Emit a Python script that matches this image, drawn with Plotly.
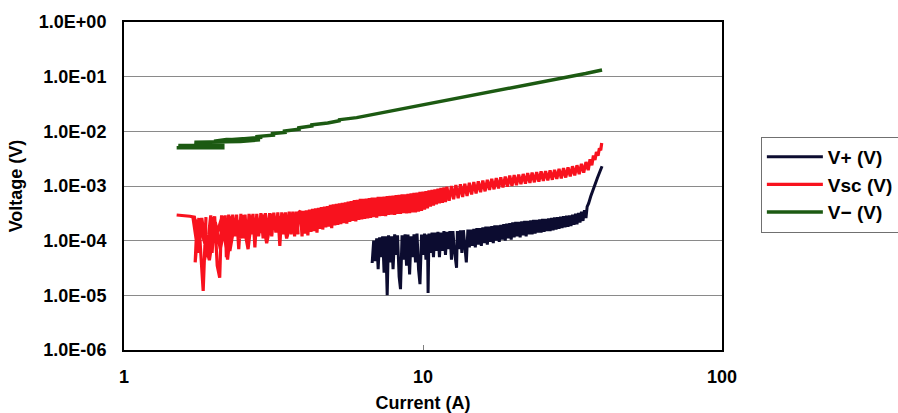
import plotly.graph_objects as go

# ---- data ----
vplus_current = [6.76, 6.84, 6.92, 7.00, 7.08, 7.16, 7.24, 7.33, 7.41, 7.50, 7.59, 7.67, 7.76, 7.85,
                 7.94, 8.04, 8.13, 8.22, 8.32, 8.41, 8.51, 8.61, 8.71, 8.81, 8.91, 9.02, 9.12, 9.23,
                 9.33, 9.44, 9.55, 9.66, 9.77, 9.89, 10.0, 10.12, 10.23, 10.35, 10.40, 10.47, 10.59,
                 10.72, 10.84, 10.96, 11.09, 11.22, 11.35, 11.48, 11.61, 11.75, 11.89, 12.02, 12.16,
                 12.30, 12.45, 12.59, 12.74, 12.95, 13.03, 13.18, 13.34, 13.49, 13.65, 13.80, 13.96,
                 14.13, 14.29, 14.45, 14.62, 14.79, 14.96, 15.14, 15.31, 15.49, 15.67, 15.85, 16.03,
                 16.22, 16.41, 16.60, 16.79, 16.98, 17.18, 17.38, 17.58, 17.78, 17.99, 18.20, 18.41,
                 18.62, 18.84, 19.05, 19.28, 19.50, 19.72, 19.95, 20.18, 20.42, 20.65, 20.89, 21.13,
                 21.38, 21.63, 21.88, 22.13, 22.39, 22.65, 22.91, 23.17, 23.44, 23.71, 23.99, 24.27,
                 24.55, 24.83, 25.12, 25.41, 25.70, 26.00, 26.30, 26.61, 26.92, 27.23, 27.54, 27.86,
                 28.18, 28.51, 28.84, 29.17, 29.51, 29.85, 30.20, 30.55, 30.90, 31.26, 31.62, 31.99,
                 32.36, 32.73, 33.11, 33.50, 33.88, 34.28, 34.67, 35.08, 35.4, 35.8, 36.4, 37.0,
                 37.6, 38.3, 39.0, 39.7]
vplus_voltage = [3.9e-5, 1.0e-4, 4.2e-5, 1.1e-4, 3.0e-5, 1.15e-4, 5.0e-5, 1.2e-4, 2.6e-5, 1.2e-4,
                 1.0e-5, 1.25e-4, 4.0e-5, 1.2e-4, 3.0e-5, 1.3e-4, 5.5e-5, 1.25e-4, 2.2e-5, 1.3e-5,
                 1.25e-4, 4.5e-5, 1.3e-4, 3.5e-5, 1.3e-4, 2.4e-5, 1.2e-4, 5.0e-5, 1.3e-4, 4.0e-5,
                 1.35e-4, 3.0e-5, 1.6e-5, 1.3e-4, 5.5e-5, 1.35e-4, 4.5e-5, 1.3e-4, 1.1e-5, 1.35e-4,
                 6.0e-5, 1.4e-4, 5.0e-5, 1.4e-4, 6.5e-5, 1.45e-4, 5.0e-5, 1.4e-4, 6.5e-5, 1.5e-4,
                 5.5e-5, 1.45e-4, 7.0e-5, 1.5e-4, 4.5e-5, 1.5e-4, 6.5e-5, 3.2e-5, 1.5e-4, 7.0e-5,
                 1.55e-4, 6.0e-5, 1.55e-4, 7.5e-5, 4.0e-5, 1.6e-4, 7.5e-5, 1.6e-4, 8.0e-5, 1.65e-4,
                 7.5e-5, 1.7e-4, 8.5e-5, 1.7e-4, 8.0e-5, 1.75e-4, 9.0e-5, 1.8e-4, 8.5e-5, 1.8e-4,
                 9.5e-5, 1.85e-4, 9.0e-5, 1.9e-4, 1.0e-4, 1.9e-4, 9.5e-5, 1.95e-4, 1.05e-4, 2.0e-4,
                 1.0e-4, 2.05e-4, 1.1e-4, 2.1e-4, 1.05e-4, 2.15e-4, 1.15e-4, 2.2e-4, 1.2e-4, 2.2e-4,
                 1.15e-4, 2.25e-4, 1.25e-4, 2.3e-4, 1.2e-4, 2.3e-4, 1.3e-4, 2.35e-4, 1.3e-4, 2.4e-4,
                 1.35e-4, 2.4e-4, 1.4e-4, 2.45e-4, 1.4e-4, 2.5e-4, 1.45e-4, 2.5e-4, 1.5e-4, 2.55e-4,
                 1.5e-4, 2.6e-4, 1.55e-4, 2.65e-4, 1.6e-4, 2.7e-4, 1.65e-4, 2.75e-4, 1.7e-4, 2.8e-4,
                 1.75e-4, 2.85e-4, 1.8e-4, 2.9e-4, 1.85e-4, 3.0e-4, 1.95e-4, 3.1e-4, 2.0e-4, 3.2e-4,
                 2.15e-4, 3.4e-4, 2.3e-4, 3.6e-4, 2.6e-4, 4.2e-4, 4.8e-4, 6.5e-4, 8.5e-4, 1.1e-3,
                 1.4e-3, 1.8e-3, 2.3e-3]

vsc_current = [
    1.50, 1.58, 1.66, 1.72, 1.75, 1.73, 1.78, 1.80, 1.84, 1.88, 1.86, 1.92, 1.95, 1.97, 2.01,
    2.05, 2.09, 2.12, 2.15, 2.18, 2.20, 2.24, 2.27, 2.31, 2.35, 2.38, 2.42, 2.46, 2.50, 2.54,
    2.58, 2.62, 2.66, 2.70, 2.74, 2.78, 2.82, 2.87, 2.92, 2.97, 3.02, 3.07, 3.12, 3.17, 3.22,
    3.27, 3.32, 3.37, 3.42, 3.47, 3.52, 3.57, 3.62, 3.67, 3.72, 3.77, 3.82,
    3.80, 3.64, 3.50, 3.39, 3.25, 3.14, 3.00, 2.89, 2.80, 2.68, 2.60, 2.48, 2.40, 2.30, 2.22,
    2.13, 2.05, 1.97, 1.90, 1.82, 1.77, 1.70,
    1.80, 1.93, 2.02, 2.10, 2.19, 2.26, 2.34, 2.44, 2.52, 2.60, 2.72, 2.84, 2.95, 3.05, 3.20,
    3.30, 3.45, 3.55, 3.70, 3.80, 3.85,
    3.89, 3.94, 3.98, 4.03, 4.07, 4.12, 4.17, 4.22, 4.27, 4.32, 4.37, 4.42, 4.47, 4.52, 4.57,
    4.62, 4.68, 4.73, 4.79, 4.84, 4.90, 4.95, 5.01, 5.07, 5.13, 5.19, 5.25, 5.31, 5.37, 5.43,
    5.50, 5.56, 5.62, 5.69, 5.75, 5.82, 5.89, 5.96, 6.03, 6.10, 6.17, 6.24, 6.31, 6.38, 6.46,
    6.53, 6.61, 6.68, 6.76, 6.84, 6.92, 7.00, 7.08, 7.16, 7.24, 7.33, 7.41, 7.50, 7.59, 7.67,
    7.76, 7.85, 7.94, 8.04, 8.13, 8.22, 8.32, 8.41, 8.51, 8.61, 8.71, 8.81, 8.91, 9.02, 9.12,
    9.23, 9.33, 9.44, 9.55, 9.66, 9.77, 9.89, 10.0, 10.12, 10.23, 10.35, 10.47, 10.59, 10.72,
    10.84, 10.96, 11.09, 11.22, 11.35, 11.48, 11.61, 11.75, 11.89, 12.02,
    12.23, 12.45, 12.66, 12.88, 13.11, 13.34, 13.57, 13.80, 14.04, 14.29, 14.54, 14.79, 15.05,
    15.31, 15.58, 15.85, 16.13, 16.41, 16.69, 16.98, 17.28, 17.58, 17.89, 18.20, 18.51, 18.84,
    19.16, 19.50, 19.84, 20.18, 20.54, 20.89, 21.26, 21.63, 22.01, 22.39, 22.78, 23.17, 23.58,
    23.99, 24.41, 24.83, 25.26, 25.70, 26.15, 26.61, 27.07, 27.54, 28.02, 28.51, 29.01, 29.51,
    30.02, 30.55, 31.08, 31.62, 32.17, 32.73, 33.30, 33.88, 34.47, 35.08, 35.69, 36.2, 36.7,
    37.15, 37.6, 38.02, 38.5, 38.9, 39.3, 39.6]
vsc_voltage = [
    2.95e-4, 2.9e-4, 2.8e-4, 2.7e-4, 1.6e-4, 4.0e-5, 2.6e-4, 8.0e-5, 1.2e-5, 2.7e-4, 4.5e-5,
    1.3e-4, 2.9e-4, 6.0e-5, 2.8e-4, 3.5e-5, 2.1e-5, 2.9e-4, 1.0e-4, 2.9e-4, 5.0e-5, 3.0e-4,
    9.0e-5, 3.0e-4, 1.2e-4, 3.0e-4, 7.0e-5, 3.1e-4, 1.1e-4, 3.0e-4, 9.0e-5, 3.1e-4, 1.3e-4,
    3.1e-4, 7.5e-5, 3.1e-4, 1.2e-4, 3.2e-4, 1.1e-4, 3.2e-4, 1.3e-4, 3.2e-4, 1.2e-4, 3.25e-4,
    1.4e-4, 3.3e-4, 8.0e-5, 3.3e-4, 1.3e-4, 3.3e-4, 1.2e-4, 3.4e-4, 1.3e-4, 3.4e-4, 1.2e-4,
    3.4e-4, 1.3e-4,
    2.2e-4, 3.2e-4, 1.1e-4, 3.1e-4, 1.9e-4, 3.1e-4, 9.0e-5, 3.0e-4, 1.8e-4, 2.9e-4, 7.0e-5,
    2.9e-4, 1.7e-4, 2.8e-4, 4.5e-5, 2.8e-4, 1.4e-4, 2.7e-4, 5.0e-5, 2.6e-4, 6.0e-5, 2.7e-4,
    1.8e-4, 4.4e-5, 2.2e-4, 7.0e-5, 2.3e-4, 6.5e-5, 2.0e-4, 1.1e-4, 2.5e-4, 1.2e-4, 2.4e-4,
    1.4e-4, 2.6e-4, 1.5e-4, 2.7e-4, 1.6e-4, 2.7e-4, 1.6e-4, 2.9e-4, 1.5e-4, 3.3e-4,
    3.5e-4, 1.2e-4, 3.5e-4, 1.35e-4, 3.6e-4, 1.25e-4, 3.7e-4, 1.45e-4, 3.8e-4, 1.5e-4, 3.9e-4,
    1.4e-4, 4.0e-4, 1.65e-4, 4.1e-4, 1.6e-4, 4.2e-4, 1.75e-4, 4.3e-4, 1.8e-4, 4.5e-4, 1.7e-4,
    4.6e-4, 1.9e-4, 4.7e-4, 1.95e-4, 4.8e-4, 2.0e-4, 4.9e-4, 2.1e-4, 5.0e-4, 2.05e-4, 5.2e-4,
    2.2e-4, 5.3e-4, 2.3e-4, 5.5e-4, 2.25e-4, 5.6e-4, 2.4e-4, 5.8e-4, 2.45e-4, 5.8e-4, 2.5e-4,
    5.9e-4, 2.55e-4, 6.0e-4, 2.6e-4, 6.1e-4, 2.7e-4, 6.1e-4, 2.65e-4, 6.3e-4, 2.8e-4, 6.3e-4,
    2.85e-4, 6.4e-4, 2.8e-4, 6.5e-4, 2.95e-4, 6.6e-4, 3.0e-4, 6.7e-4, 2.95e-4, 6.8e-4, 3.1e-4,
    6.9e-4, 3.1e-4, 7.0e-4, 3.2e-4, 7.0e-4, 3.15e-4, 7.2e-4, 3.2e-4, 7.3e-4, 3.3e-4, 7.5e-4,
    3.3e-4, 7.6e-4, 3.4e-4, 7.8e-4, 3.5e-4, 7.9e-4, 3.7e-4, 8.1e-4, 3.9e-4, 8.3e-4, 4.2e-4,
    8.5e-4, 4.4e-4, 8.7e-4, 4.6e-4, 8.9e-4, 4.8e-4, 9.2e-4, 4.9e-4, 9.4e-4, 5.1e-4, 9.7e-4,
    5.4e-4, 1.0e-3, 5.7e-4, 1.04e-3, 6.0e-4, 1.08e-3, 6.3e-4, 1.1e-3, 6.6e-4, 1.15e-3, 7.0e-4,
    1.18e-3, 7.3e-4, 1.22e-3, 7.7e-4, 1.26e-3, 8.0e-4, 1.3e-3, 8.5e-4, 1.35e-3, 8.7e-4, 1.4e-3,
    9.0e-4, 1.44e-3, 9.4e-4, 1.48e-3, 9.7e-4, 1.55e-3, 1.0e-3, 1.58e-3, 1.04e-3, 1.62e-3,
    1.08e-3, 1.66e-3, 1.1e-3, 1.72e-3, 1.14e-3, 1.76e-3, 1.17e-3, 1.8e-3, 1.2e-3, 1.85e-3,
    1.24e-3, 1.88e-3, 1.27e-3, 1.93e-3, 1.3e-3, 1.98e-3, 1.35e-3, 2.05e-3, 1.38e-3, 2.12e-3,
    1.43e-3, 2.2e-3, 1.5e-3, 2.3e-3, 1.56e-3, 2.4e-3, 1.65e-3, 2.55e-3, 1.75e-3, 2.75e-3,
    1.95e-3, 3.1e-3, 2.4e-3, 3.6e-3, 3.0e-3, 4.2e-3, 3.6e-3, 4.9e-3, 4.5e-3, 6.1e-3]

vminus_current = [1.50, 2.14, 2.14, 1.52, 1.60, 2.10, 1.72, 2.45, 2.85, 2.20, 2.00, 2.60, 2.90,
                  2.75, 3.20, 3.10, 3.50, 3.40, 3.90, 3.80, 4.30, 4.20, 4.80, 5.30, 5.20, 6.00,
                  7.00, 8.00, 9.00, 10.0, 11.0, 12.0, 13.0, 14.0, 16.0, 18.0, 20.0, 23.0, 26.0,
                  29.0, 32.0, 35.0, 38.0, 39.7]
vminus_voltage = [5.0e-3, 5.0e-3, 5.6e-3, 5.5e-3, 5.3e-3, 5.3e-3, 6.3e-3, 6.5e-3, 7.0e-3, 7.1e-3,
                  6.6e-3, 7.3e-3, 7.8e-3, 8.0e-3, 8.6e-3, 9.0e-3, 9.6e-3, 1.0e-2, 1.1e-2, 1.15e-2,
                  1.26e-2, 1.3e-2, 1.42e-2, 1.58e-2, 1.62e-2, 1.78e-2, 2.1e-2, 2.42e-2, 2.75e-2,
                  3.08e-2, 3.4e-2, 3.75e-2, 4.1e-2, 4.4e-2, 5.05e-2, 5.7e-2, 6.4e-2, 7.4e-2,
                  8.4e-2, 9.4e-2, 0.104, 0.114, 0.125, 0.132]

y_tick_values = [1e-6, 1e-5, 1e-4, 1e-3, 1e-2, 1e-1, 1e0]
y_tick_labels = ["1.0E-06", "1.0E-05", "1.0E-04", "1.0E-03", "1.0E-02", "1.0E-01", "1.0E+00"]
x_tick_values = [1, 10, 100]
x_tick_labels = ["1", "10", "100"]

FONT = "Liberation Sans, Arial, sans-serif"

fig = go.Figure()
fig.add_trace(go.Scatter(x=vplus_current, y=vplus_voltage, mode="lines", name="V+ (V)",
                         legendgroup="a", line=dict(color="#0c0c30", width=3)))
fig.add_trace(go.Scatter(x=vsc_current, y=vsc_voltage, mode="lines", name="Vsc (V)",
                         legendgroup="b", line=dict(color="#f8121e", width=3.2)))
fig.add_trace(go.Scatter(x=vminus_current, y=vminus_voltage, mode="lines", name="V\u2212 (V)",
                         legendgroup="c", line=dict(color="#1c5a12", width=3.5)))

fig.update_layout(
    template="none",
    width=898, height=413,
    margin=dict(l=124, r=176, t=22, b=63, autoexpand=False),
    paper_bgcolor="white", plot_bgcolor="white",
    font=dict(family=FONT, size=18, color="black", weight="bold"),
    showlegend=True,
    legend=dict(x=1.065, y=0.650, xanchor="left", yanchor="top",
                bordercolor="#707070", borderwidth=1, bgcolor="white",
                font=dict(family=FONT, size=19, color="black", weight="bold"),
                itemwidth=56, tracegroupgap=3, traceorder="normal"),
)
fig.update_xaxes(type="log", range=[0, 2], tickvals=x_tick_values, ticktext=x_tick_labels,
                 showgrid=False, showline=True, linecolor="black", linewidth=2, mirror=True,
                 ticks="inside", ticklen=5, tickcolor="#808080", tickwidth=1,
                 tickfont=dict(family=FONT, size=18, weight="bold"), ticklabelstandoff=9,
                 title=dict(text="Current (A)", font=dict(family=FONT, size=18, weight="bold"),
                            standoff=13),
                 zeroline=False, automargin=False)
fig.update_yaxes(type="log", range=[-6, 0], tickvals=y_tick_values, ticktext=y_tick_labels,
                 showgrid=True, gridcolor="#8a8a8a", gridwidth=1,
                 showline=True, linecolor="black", linewidth=2, mirror=True,
                 ticks="", tickfont=dict(family=FONT, size=18, weight="bold"),
                 ticklabelstandoff=12,
                 title=dict(text="Voltage (V)", font=dict(family=FONT, size=18, weight="bold"),
                            standoff=12),
                 zeroline=False, automargin=False)

fig.write_html("out.html")
